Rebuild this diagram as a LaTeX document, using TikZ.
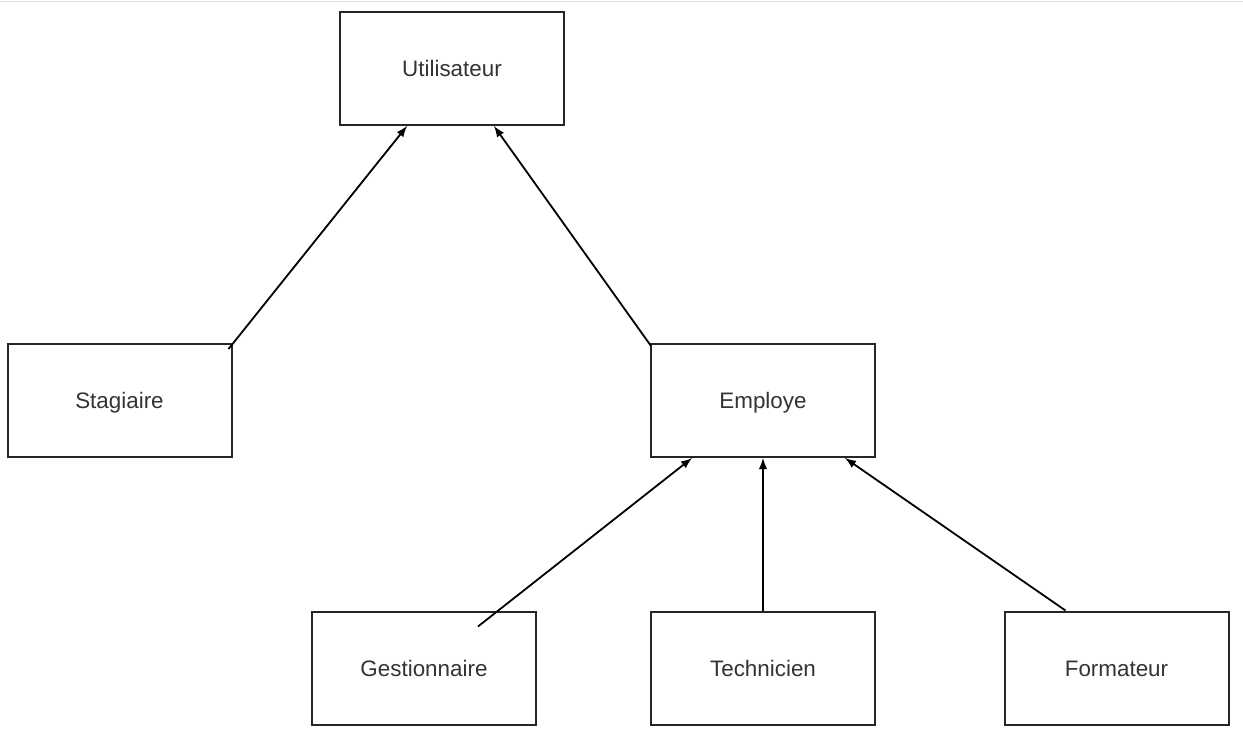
\documentclass[tikz,border=0pt]{standalone}
\usepackage{fontspec}
\setmainfont{Liberation Sans}
\usetikzlibrary{calc}

\tikzset{
  klasse/.style={draw=black!85, line width=1pt, minimum width=112pt, minimum height=56.5pt,
    inner sep=0pt, font=\fontsize{11.2}{13}\selectfont, text=black!80,
    text height=8pt, text depth=0pt},
  pfeil/.style={-latex, line width=0.9pt}
}

\begin{document}
\begin{tikzpicture}[x=0.5pt,y=-0.5pt]

\useasboundingbox (0,0) rectangle (1243,730);
\draw[black!12, line width=0.75pt] (0,1.5) -- (1243,1.5);

% Klassen
\draw (452,68.5)   node[klasse] (util) {Utilisateur};
\draw (119.5,400.5) node[klasse] (stag) {Stagiaire};
\draw (763,400.5)  node[klasse] (emp)  {Employe};
\draw (424,668)    node[klasse] (gest) {Gestionnaire};
\draw (763,668)    node[klasse] (tech) {Technicien};
\draw (1116.5,668) node[klasse] (form) {Formateur};

% Pfeile
\draw[pfeil] ($(stag.north east)+(-4,6)$) -- ($(util.south)+(-45,0)$);
\draw[pfeil] ($(emp.north west)+(1,3)$) -- ($(util.south)+(42,0)$);
\draw[pfeil] ($(gest.north)+(54,16)$) -- ($(emp.south)+(-71,0)$);
\draw[pfeil] (tech.north) -- (emp.south);
\draw[pfeil] ($(form.north)+(-51,0)$) -- ($(emp.south)+(82,0)$);

\end{tikzpicture}
\end{document}
